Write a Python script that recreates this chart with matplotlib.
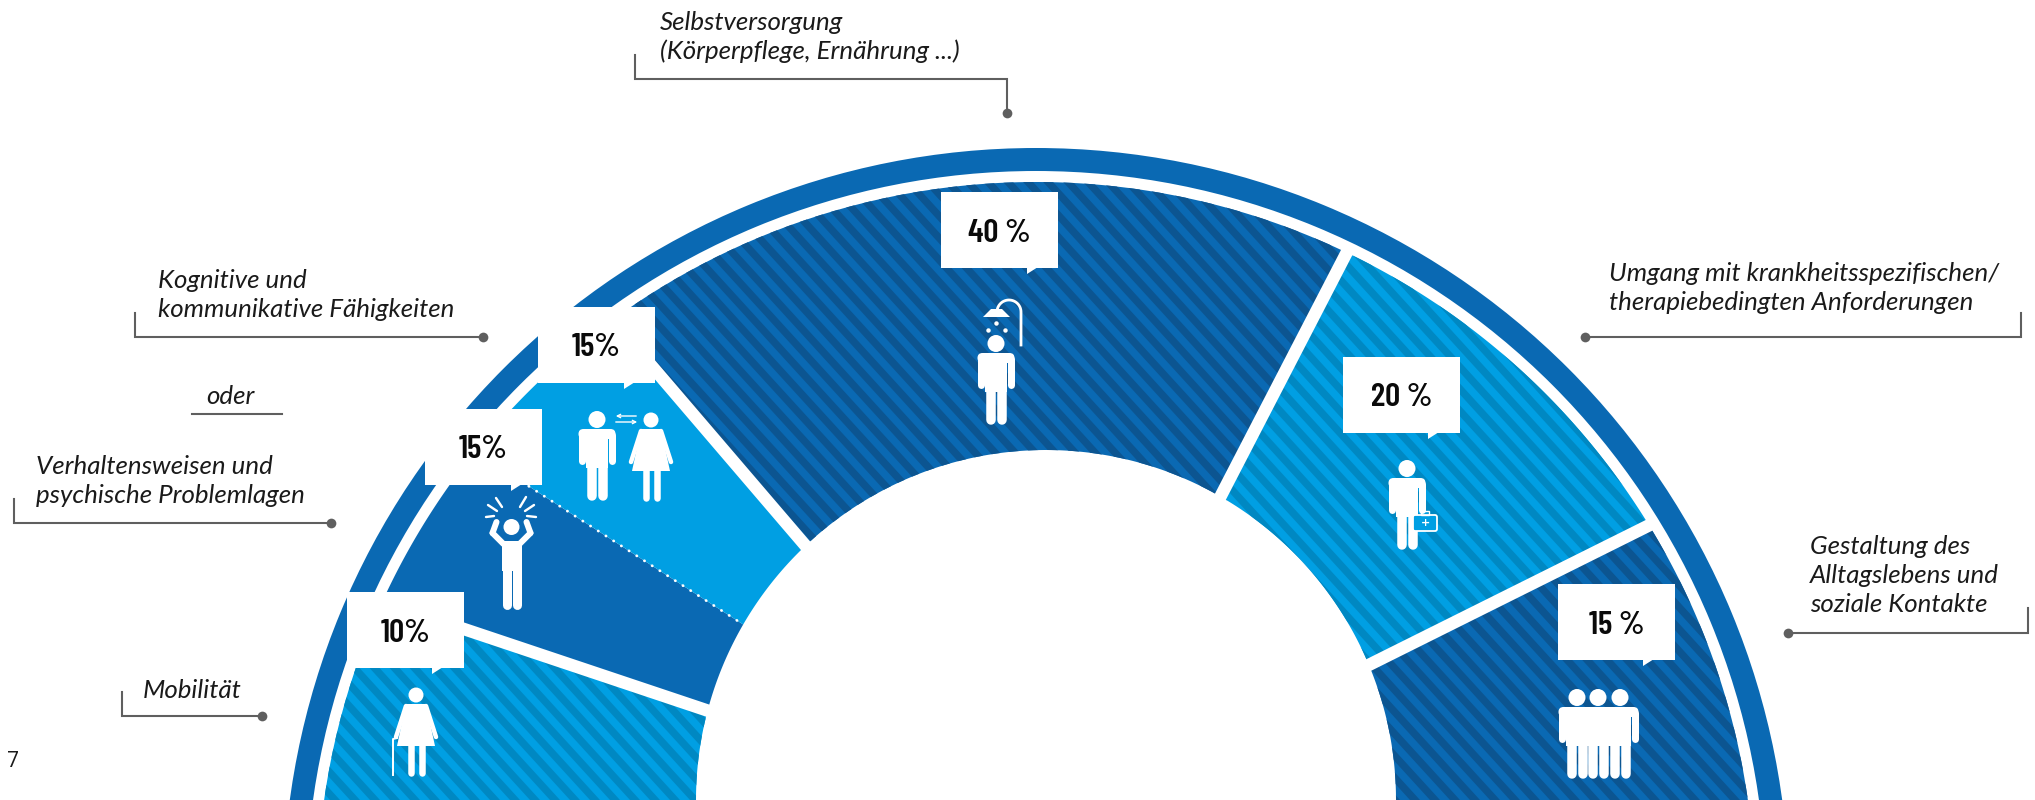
# -*- coding: utf-8 -*-
import numpy as np
import matplotlib
matplotlib.use("Agg")
import matplotlib.pyplot as plt
from matplotlib.patches import Circle, FancyBboxPatch, Polygon, Rectangle, Wedge

# values of the six areas, left to right
areas = ["Mobilität", "Verhaltensweisen", "Kognitive", "Selbstversorgung", "Umgang", "Gestaltung"]
values = [10, 15, 15, 40, 20, 15]
percent_labels = ["10%", "15%", "15%", "40 %", "20 %", "15 %"]

# where the areas meet, degrees (chart is not to scale)
outer_angles = [195, 155.4, 141.3, 126.1, 64.4, 31.5, -20]
inner_angles = [195, 165.2, 149.9, 133.4, 60.1, 22.7, -20]

captions = [
    ["Selbstversorgung", "(Körperpflege, Ernährung ...)"],
    ["Umgang mit krankheitsspezifischen/", "therapiebedingten Anforderungen"],
    ["Gestaltung des", "Alltagslebens und", "soziale Kontakte"],
    ["Kognitive und", "kommunikative Fähigkeiten"],
    ["oder"],
    ["Verhaltensweisen und", "psychische Problemlagen"],
    ["Mobilität"],
]
caption_pos = [(660, 30), (1609, 281), (1810, 554), (158, 288), (206, 404), (36, 474), (143, 698)]

dark = "#0A69B3"
dark2 = "#0C5591"
light = "#009FE3"
light2 = "#0088C2"
grey = "#5F5F5F"

cx, cy = 1036, 901
hx, hy, hr = 1046, 800, 350
r_out = 719

fig = plt.figure(figsize=(20.35, 8), dpi=100)
ax = fig.add_axes([0, 0, 1, 1])
ax.set_xlim(0, 2035)
ax.set_ylim(800, 0)
ax.axis("off")

ax.add_patch(Wedge((cx, cy), 753, 0, 360, width=23, color=dark, lw=0, zorder=1))


def area_points(i):
    a = np.radians(np.linspace(outer_angles[i], outer_angles[i + 1], 120))
    b = np.radians(np.linspace(inner_angles[i + 1], inner_angles[i], 120))
    xs = np.r_[cx + r_out * np.cos(a), hx + hr * np.cos(b)]
    ys = np.r_[cy - r_out * np.sin(a), hy - hr * np.sin(b)]
    return np.c_[xs, ys]


base = [light, dark, light, dark, light, dark]
stripe = [light2, None, None, dark2, light2, dark2]
shift = [0, 0, 0, 17, 0, 0]
for i in range(len(values)):
    poly = Polygon(area_points(i), closed=True, fc=base[i], ec="none", zorder=2)
    ax.add_patch(poly)
    if stripe[i]:
        for x0 in np.arange(-800, 2100, 20.0) + shift[i]:
            st = ax.fill([x0, x0 + 10, x0 + 10 + 730, x0 + 730], [0, 0, 800, 800],
                         color=stripe[i], lw=0, zorder=2)[0]
            st.set_clip_path(poly)

# gaps and the dotted divider
for j in range(1, 6):
    a_o = np.radians(outer_angles[j])
    a_i = np.radians(inner_angles[j])
    p0 = (cx + r_out * np.cos(a_o), cy - r_out * np.sin(a_o))
    p1 = (hx + hr * np.cos(a_i), hy - hr * np.sin(a_i))
    if j == 2:
        ax.plot([p0[0], p1[0]], [p0[1], p1[1]], color="white", lw=2, dashes=(0.1, 3.2),
                dash_capstyle="round", zorder=3)
    else:
        ext = 0.02
        ax.plot([p0[0] - (p1[0] - p0[0]) * ext, p1[0] + (p1[0] - p0[0]) * ext],
                [p0[1] - (p1[1] - p0[1]) * ext, p1[1] + (p1[1] - p0[1]) * ext],
                color="white", lw=9, solid_capstyle="butt", zorder=3)

# speech boxes, same order as values
boxes = [(347, 592), (425, 409), (538, 307), (941, 192), (1343, 357), (1558, 584)]
tails = [432, 511, 624, 1027, 1428, 1643]
for (bx, by), tl, txt in zip(boxes, tails, percent_labels):
    ax.add_patch(Rectangle((bx, by), 117, 75.5, fc="white", ec="none", zorder=5))
    ax.add_patch(Polygon([(tl, by + 75), (tl, by + 82), (tl + 11, by + 75)], fc="white", ec="none", zorder=5))
    ax.text(bx + 58.5, by + 41, txt, ha="center", va="center", fontsize=24, fontweight=600,
            family=["Barlow Condensed", "Roboto"], color="#0a0a0a", zorder=7)


def limb(x0, y0, x1, y1, w, color="white", z=6):
    ax.plot([x0, x1], [y0, y1], color=color, lw=w * 0.72, solid_capstyle="round", zorder=z)


def man(x, top, s=1.0, edge=None):
    ax.add_patch(Circle((x, top + 8.5 * s), 8.5 * s, fc="white", ec="none", zorder=6))
    ax.add_patch(FancyBboxPatch((x - 18.5 * s, top + 18 * s), 37 * s, 10 * s, boxstyle="round,pad=0,rounding_size=5",
                                fc="white", ec="none", zorder=6))
    ax.add_patch(Rectangle((x - 11 * s, top + 22 * s), 22 * s, 35 * s, fc="white", ec="none", zorder=6))
    for sgn in (-1, 1):
        limb(x + sgn * 15 * s, top + 24 * s, x + sgn * 15 * s, top + 50 * s, 7 * s)
        limb(x + sgn * 5.5 * s, top + 55 * s, x + sgn * 5.5 * s, top + 85 * s, 9.5 * s)


def woman(x, top, s=1.0):
    ax.add_patch(Circle((x, top + 8 * s), 7.5 * s, fc="white", ec="none", zorder=6))
    ax.add_patch(Polygon([(x - 10 * s, top + 17 * s), (x + 10 * s, top + 17 * s), (x + 19 * s, top + 59 * s),
                          (x - 19 * s, top + 59 * s)], fc="white", ec="none", zorder=6))
    for sgn in (-1, 1):
        limb(x + sgn * 10 * s, top + 19 * s, x + sgn * 20 * s, top + 50 * s, 4.5 * s)
        limb(x + sgn * 5.5 * s, top + 58 * s, x + sgn * 5.5 * s, top + 86 * s, 6.5 * s)


# shower
man(996, 335)
t = np.radians(np.linspace(0, 180, 30))
ax.plot(np.r_[1021, 1009 + 12 * np.cos(t)], np.r_[345, 312 - 12 * np.sin(t)], color="white", lw=2, zorder=6)
ax.add_patch(Polygon([(983, 317), (991, 309), (1002, 309), (1010, 317)], fc="white", ec="none", zorder=6))
for dx, dy in [(996, 323), (988, 330), (1005, 330)]:
    ax.plot(dx, dy, marker="o", ms=3.2, color="white", mew=0, zorder=6)

# doctor
man(1407, 460)
ax.add_patch(FancyBboxPatch((1413, 515), 24, 16, boxstyle="round,pad=0,rounding_size=2", fc=light, ec="white", lw=1.3, zorder=6))
ax.add_patch(Rectangle((1421, 511), 8, 4, fc="none", ec="white", lw=1, zorder=6))
ax.text(1425, 523, "+", color="white", fontsize=8, fontweight="bold", ha="center", va="center", zorder=7)

# group
man(1598, 689)
man(1577, 689)
man(1620, 689)

# couple
man(597, 411)
woman(651, 412)
ax.annotate("", xy=(613, 416), xytext=(639, 416), arrowprops=dict(arrowstyle="->", color="white", lw=1, mutation_scale=6), zorder=6)
ax.annotate("", xy=(640, 422), xytext=(613, 422), arrowprops=dict(arrowstyle="->", color="white", lw=1, mutation_scale=6), zorder=6)

# stressed
ax.add_patch(Circle((511.5, 527), 8, fc="white", ec="none", zorder=6))
ax.add_patch(Rectangle((501.5, 541), 20, 30, fc="white", ec="none", zorder=6))
for sgn in (-1, 1):
    limb(511.5 + sgn * 5, 570, 511.5 + sgn * 5, 605, 9)
    limb(511.5 + sgn * 8, 544, 511.5 + sgn * 19, 533, 6)
    limb(511.5 + sgn * 19, 533, 511.5 + sgn * 15, 522, 6)
rays = [((496, 498), (502, 507)), ((526, 497), (520, 507)), ((488, 505), (497, 511)),
        ((534, 505), (525, 511)), ((486, 517), (494, 516)), ((536, 517), (527, 516))]
for p, q in rays:
    limb(p[0], p[1], q[0], q[1], 2.4)

# old woman
woman(416, 687, 1.0)
ax.plot([393, 393, 397], [775, 739, 738], color="white", lw=1.4, zorder=6)

# captions and leaders
for lines, (tx, ty) in zip(captions, caption_pos):
    for k, line in enumerate(lines):
        ax.text(tx, ty + k * 29, line, fontsize=18.6, style="italic", family="Lato", color="#1a1a1a",
                va="baseline", ha="left", zorder=7)

leaders = [([635, 635, 1007, 1007], [55, 79, 79, 113]),
           ([2021, 2021, 1585], [313, 337, 337]),
           ([2028, 2028, 1788], [608, 633, 633]),
           ([135, 135, 483], [313, 337, 337]),
           ([14, 14, 331], [499, 523, 523]),
           ([122, 122, 262], [692, 716, 716])]
for xs, ys in leaders:
    ax.plot(xs, ys, color=grey, lw=1.5, solid_joinstyle="miter", zorder=4)
    ax.plot(xs[-1], ys[-1], marker="o", ms=7, color=grey, mew=0, zorder=4)
ax.plot([192, 282], [414, 414], color=grey, lw=1.5, zorder=4)

ax.text(7, 767, "7", fontsize=15, family="Open Sans", color="#1a1a1a", va="baseline")

fig.savefig("out.png", dpi=100)
